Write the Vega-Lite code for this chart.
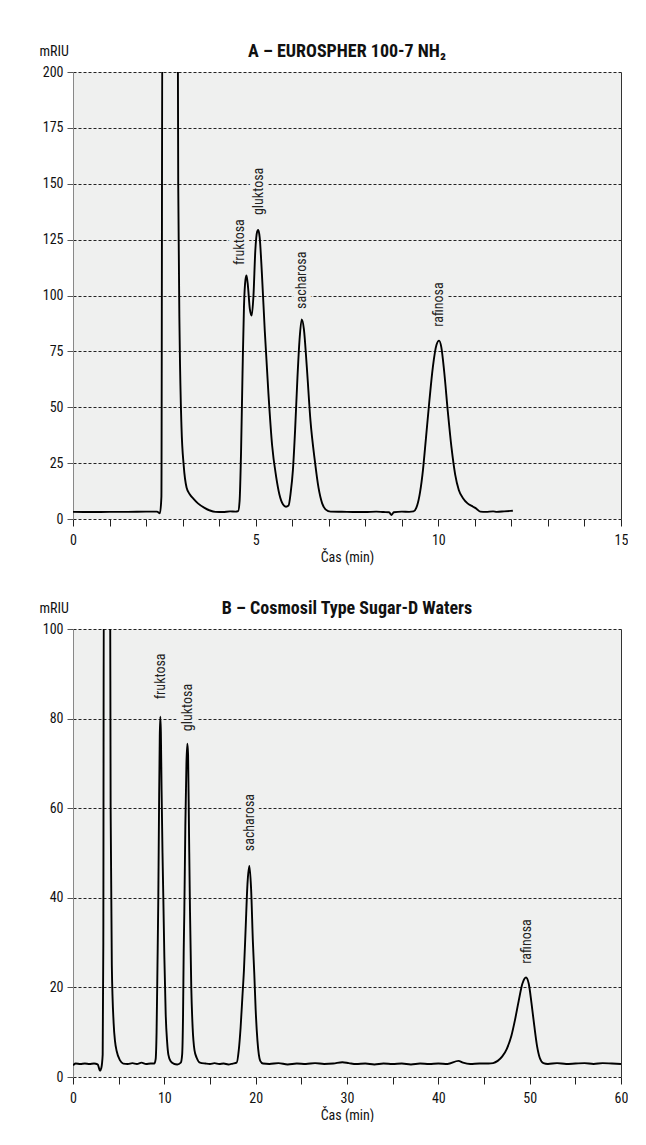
{
  "$schema": "https://vega.github.io/schema/vega-lite/v6.json",
  "background": "white",
  "padding": {"left": 39, "top": 43, "right": 0, "bottom": 0},
  "spacing": 36,
  "config": {
    "font": "Roboto Condensed, Liberation Sans Narrow, Roboto, sans-serif",
    "view": {"fill": "#eff0ef", "stroke": null},
    "axis": {
      "labelFont": "Roboto Condensed, Liberation Sans Narrow, Roboto, sans-serif",
      "labelFontSize": 14,
      "labelColor": "#111",
      "titleFont": "Roboto Condensed, Liberation Sans Narrow, Roboto, sans-serif",
      "titleFontSize": 14,
      "titleFontWeight": "normal",
      "titleColor": "#111",
      "tickColor": "#222",
      "domainColor": "#888",
      "gridColor": "#222",
      "gridDash": [3, 2],
      "gridOpacity": 1,
      "labelOverlap": false,
      "labelFlush": false
    },
    "title": {
      "font": "Roboto Condensed, Liberation Sans Narrow, Roboto, sans-serif",
      "fontSize": 18,
      "fontWeight": "bold",
      "color": "#111",
      "anchor": "middle",
      "frame": "group",
      "dy": 21
    }
  },
  "datasets": {
    "a": [
      {"t": 0, "v": 3.2}, {"t": 0.5, "v": 3.1}, {"t": 1.0, "v": 3.2}, {"t": 1.5, "v": 3.2}, {"t": 2.0, "v": 3.3}, {"t": 2.3, "v": 3.3},
      {"t": 2.38, "v": 2.6}, {"t": 2.42, "v": 10}, {"t": 2.45, "v": 260}, {"t": 2.86, "v": 260}, {"t": 2.88, "v": 150}, {"t": 2.92, "v": 80},
      {"t": 2.97, "v": 41}, {"t": 3.03, "v": 24}, {"t": 3.11, "v": 14}, {"t": 3.2, "v": 11}, {"t": 3.3, "v": 9}, {"t": 3.42, "v": 7},
      {"t": 3.6, "v": 5}, {"t": 3.75, "v": 3.8}, {"t": 3.9, "v": 3.2}, {"t": 4.1, "v": 3.1}, {"t": 4.3, "v": 3.4}, {"t": 4.45, "v": 3.3},
      {"t": 4.52, "v": 3.5}, {"t": 4.56, "v": 8}, {"t": 4.6, "v": 30}, {"t": 4.64, "v": 65}, {"t": 4.68, "v": 95}, {"t": 4.72, "v": 107},
      {"t": 4.75, "v": 109}, {"t": 4.79, "v": 104}, {"t": 4.84, "v": 94}, {"t": 4.89, "v": 91}, {"t": 4.94, "v": 100}, {"t": 4.99, "v": 120},
      {"t": 5.04, "v": 128.5}, {"t": 5.07, "v": 129.3}, {"t": 5.11, "v": 126}, {"t": 5.17, "v": 110}, {"t": 5.25, "v": 84}, {"t": 5.35, "v": 56},
      {"t": 5.45, "v": 33}, {"t": 5.56, "v": 19}, {"t": 5.65, "v": 11}, {"t": 5.75, "v": 6.5}, {"t": 5.83, "v": 5.5}, {"t": 5.9, "v": 6},
      {"t": 5.96, "v": 12}, {"t": 6.02, "v": 22}, {"t": 6.08, "v": 40}, {"t": 6.14, "v": 62}, {"t": 6.2, "v": 80}, {"t": 6.26, "v": 89.3},
      {"t": 6.32, "v": 85}, {"t": 6.4, "v": 68}, {"t": 6.5, "v": 44}, {"t": 6.62, "v": 26}, {"t": 6.72, "v": 14}, {"t": 6.82, "v": 7},
      {"t": 6.92, "v": 4.2}, {"t": 7.05, "v": 3.3}, {"t": 7.5, "v": 3.2}, {"t": 8.0, "v": 3.1}, {"t": 8.3, "v": 3.3}, {"t": 8.5, "v": 3.1},
      {"t": 8.65, "v": 3.0}, {"t": 8.72, "v": 1.8}, {"t": 8.78, "v": 3.0}, {"t": 9.0, "v": 3.3}, {"t": 9.2, "v": 3.2}, {"t": 9.32, "v": 3.4},
      {"t": 9.42, "v": 6}, {"t": 9.5, "v": 12}, {"t": 9.58, "v": 22}, {"t": 9.66, "v": 36}, {"t": 9.75, "v": 52}, {"t": 9.85, "v": 68},
      {"t": 9.95, "v": 78}, {"t": 10.02, "v": 79.8}, {"t": 10.08, "v": 77}, {"t": 10.16, "v": 66}, {"t": 10.26, "v": 48}, {"t": 10.36, "v": 32},
      {"t": 10.46, "v": 20}, {"t": 10.56, "v": 13}, {"t": 10.68, "v": 9.2}, {"t": 10.8, "v": 7}, {"t": 10.95, "v": 5.5}, {"t": 11.05, "v": 4.5},
      {"t": 11.15, "v": 3.3}, {"t": 11.3, "v": 3.2}, {"t": 11.5, "v": 3.4}, {"t": 11.6, "v": 3.2}, {"t": 11.8, "v": 3.4}, {"t": 12.04, "v": 3.7}
    ],
    "la": [
      {"t": 4.57, "v": 113.6, "name": "fruktosa"},
      {"t": 5.09, "v": 136, "name": "gluktosa"},
      {"t": 6.26, "v": 94, "name": "sacharosa"},
      {"t": 10.02, "v": 86, "name": "rafinosa"}
    ],
    "b": [
      {"t": 0, "v": 2.6}, {"t": 0.3, "v": 3.0}, {"t": 0.8, "v": 2.9}, {"t": 1.3, "v": 3.0}, {"t": 1.8, "v": 2.9}, {"t": 2.3, "v": 3.0},
      {"t": 2.7, "v": 2.8}, {"t": 2.96, "v": 1.4}, {"t": 3.1, "v": 2.0}, {"t": 3.25, "v": 5}, {"t": 3.32, "v": 30}, {"t": 3.38, "v": 120},
      {"t": 4.05, "v": 120}, {"t": 4.12, "v": 60}, {"t": 4.25, "v": 25}, {"t": 4.45, "v": 12}, {"t": 4.6, "v": 8}, {"t": 4.78, "v": 5.8},
      {"t": 5.15, "v": 3.7}, {"t": 5.5, "v": 3.0}, {"t": 6.0, "v": 2.9}, {"t": 6.5, "v": 3.1}, {"t": 7.0, "v": 2.9}, {"t": 7.5, "v": 3.2},
      {"t": 8.0, "v": 2.9}, {"t": 8.5, "v": 3.0}, {"t": 8.9, "v": 3.0}, {"t": 9.05, "v": 4}, {"t": 9.15, "v": 10}, {"t": 9.25, "v": 25},
      {"t": 9.34, "v": 40}, {"t": 9.42, "v": 60}, {"t": 9.5, "v": 76}, {"t": 9.56, "v": 80.4}, {"t": 9.62, "v": 77}, {"t": 9.7, "v": 64},
      {"t": 9.8, "v": 50}, {"t": 9.89, "v": 40}, {"t": 10.0, "v": 27}, {"t": 10.15, "v": 14}, {"t": 10.3, "v": 8}, {"t": 10.44, "v": 5},
      {"t": 10.7, "v": 3.5}, {"t": 11.0, "v": 3.0}, {"t": 11.42, "v": 2.8}, {"t": 11.8, "v": 3.2}, {"t": 11.95, "v": 5}, {"t": 12.05, "v": 14},
      {"t": 12.12, "v": 28}, {"t": 12.19, "v": 37}, {"t": 12.3, "v": 56}, {"t": 12.42, "v": 70}, {"t": 12.52, "v": 74.4}, {"t": 12.6, "v": 72},
      {"t": 12.7, "v": 55}, {"t": 12.81, "v": 37}, {"t": 12.95, "v": 20}, {"t": 13.1, "v": 11}, {"t": 13.3, "v": 6}, {"t": 13.54, "v": 4.3},
      {"t": 13.9, "v": 3.2}, {"t": 14.5, "v": 3.0}, {"t": 15.0, "v": 2.9}, {"t": 15.5, "v": 3.1}, {"t": 16.0, "v": 2.9}, {"t": 16.5, "v": 3.0},
      {"t": 17.0, "v": 2.8}, {"t": 17.5, "v": 3.0}, {"t": 17.92, "v": 3.2}, {"t": 18.15, "v": 6}, {"t": 18.35, "v": 11}, {"t": 18.55, "v": 18},
      {"t": 18.72, "v": 24}, {"t": 18.9, "v": 33}, {"t": 19.1, "v": 43}, {"t": 19.31, "v": 47.1}, {"t": 19.5, "v": 42}, {"t": 19.7, "v": 30},
      {"t": 19.85, "v": 23}, {"t": 20.0, "v": 15}, {"t": 20.2, "v": 8}, {"t": 20.5, "v": 3.6}, {"t": 20.8, "v": 3.0}, {"t": 21.5, "v": 2.9},
      {"t": 22.5, "v": 3.1}, {"t": 23.5, "v": 2.8}, {"t": 24.5, "v": 3.0}, {"t": 25.5, "v": 2.9}, {"t": 26.5, "v": 3.1}, {"t": 27.5, "v": 2.9},
      {"t": 28.5, "v": 3.0}, {"t": 29.5, "v": 3.3}, {"t": 30.2, "v": 3.1}, {"t": 31, "v": 2.9}, {"t": 32, "v": 3.0}, {"t": 33, "v": 2.8},
      {"t": 34, "v": 3.0}, {"t": 35, "v": 2.9}, {"t": 36, "v": 3.0}, {"t": 37, "v": 2.8}, {"t": 38, "v": 3.0}, {"t": 39, "v": 2.9},
      {"t": 40, "v": 3.0}, {"t": 41, "v": 2.9}, {"t": 42.2, "v": 3.6}, {"t": 42.7, "v": 3.2}, {"t": 43.5, "v": 2.9}, {"t": 44.5, "v": 3.0},
      {"t": 45.5, "v": 3.0}, {"t": 46.0, "v": 3.1}, {"t": 46.5, "v": 3.6}, {"t": 47.0, "v": 4.6}, {"t": 47.5, "v": 6.3}, {"t": 48.0, "v": 9.2},
      {"t": 48.4, "v": 12.8}, {"t": 48.8, "v": 17.0}, {"t": 49.2, "v": 20.8}, {"t": 49.6, "v": 22.2}, {"t": 49.9, "v": 20.8}, {"t": 50.2, "v": 16.5},
      {"t": 50.5, "v": 11.5}, {"t": 50.8, "v": 7}, {"t": 51.1, "v": 4.3}, {"t": 51.5, "v": 3.1}, {"t": 52, "v": 2.9}, {"t": 53, "v": 3.1},
      {"t": 54, "v": 2.9}, {"t": 55, "v": 3.0}, {"t": 56, "v": 3.1}, {"t": 57, "v": 2.9}, {"t": 58, "v": 3.1}, {"t": 59, "v": 3.0}, {"t": 60, "v": 2.9}
    ],
    "lb": [
      {"t": 9.6, "v": 84.3, "name": "fruktosa"},
      {"t": 12.63, "v": 77.2, "name": "gluktosa"},
      {"t": 19.38, "v": 50.4, "name": "sacharosa"},
      {"t": 49.7, "v": 25.3, "name": "rafinosa"}
    ]
  },
  "vconcat": [
    {
      "width": 548,
      "height": 447,
      "title": {"text": "A – EUROSPHER 100-7 NH₂"},
      "resolve": {"axis": {"y": "independent"}},
      "encoding": {
        "x": {"field": "t", "type": "quantitative", "scale": {"domain": [0, 15], "nice": false, "zero": false},
          "axis": {"values": [0,1,2,3,4,5,6,7,8,9,10,11,12,13,14,15], "labelExpr": "datum.value % 5 === 0 ? datum.label : ''", "grid": false, "domain": false, "tickSize": 7, "labelPadding": 7, "title": "Čas (min)", "titlePadding": 3}}
      },
      "layer": [
        {
          "data": {"name": "la"},
          "mark": {"type": "text", "angle": 270, "align": "left", "baseline": "middle", "fontSize": 14, "fill": "#eff0ef", "stroke": "#eff0ef", "strokeWidth": 10, "strokeJoin": "round"},
          "encoding": {
            "y": {"field": "v", "type": "quantitative", "scale": {"domain": [0, 200], "nice": false}, "axis": null},
            "text": {"field": "name"}
          }
        },
        {
          "data": {"name": "a"},
          "mark": {"type": "line", "color": "#000", "strokeWidth": 1.9, "clip": true, "interpolate": "monotone", "strokeJoin": "round"},
          "encoding": {
            "y": {"field": "v", "type": "quantitative", "scale": {"domain": [0, 200], "nice": false},
              "axis": {"orient": "left", "values": [0,25,50,75,100,125,150,175,200], "grid": true, "tickSize": 6, "labelPadding": 4, "tickColor": "#555", "domainColor": "#888", "title": "mRIU", "titleAngle": 0, "titleAlign": "left", "titleBaseline": "alphabetic", "titleX": -34, "titleY": -17}}
          }
        },
        {
          "data": {"name": "la"},
          "mark": {"type": "text", "angle": 270, "align": "left", "baseline": "middle", "fontSize": 14, "color": "#222"},
          "encoding": {
            "y": {"field": "v", "type": "quantitative", "scale": {"domain": [0, 200], "nice": false}, "axis": {"orient": "right", "labels": false, "ticks": false, "grid": false, "domain": true, "domainColor": "#333", "title": null}},
            "text": {"field": "name"}
          }
        }
      ]
    },
    {
      "width": 548,
      "height": 448,
      "title": {"text": "B – Cosmosil Type Sugar-D Waters"},
      "resolve": {"axis": {"y": "independent"}},
      "encoding": {
        "x": {"field": "t", "type": "quantitative", "scale": {"domain": [0, 60], "nice": false, "zero": false},
          "axis": {"values": [0,5,10,15,20,25,30,35,40,45,50,55,60], "labelExpr": "datum.value % 10 === 0 ? datum.label : ''", "grid": false, "domain": false, "tickSize": 7, "labelPadding": 7, "title": "Čas (min)", "titlePadding": 3}}
      },
      "layer": [
        {
          "data": {"name": "lb"},
          "mark": {"type": "text", "angle": 270, "align": "left", "baseline": "middle", "fontSize": 14, "fill": "#eff0ef", "stroke": "#eff0ef", "strokeWidth": 10, "strokeJoin": "round"},
          "encoding": {
            "y": {"field": "v", "type": "quantitative", "scale": {"domain": [0, 100], "nice": false}, "axis": null},
            "text": {"field": "name"}
          }
        },
        {
          "data": {"name": "b"},
          "mark": {"type": "line", "color": "#000", "strokeWidth": 1.9, "clip": true, "interpolate": "monotone", "strokeJoin": "round"},
          "encoding": {
            "y": {"field": "v", "type": "quantitative", "scale": {"domain": [0, 100], "nice": false},
              "axis": {"orient": "left", "values": [0,20,40,60,80,100], "grid": true, "tickSize": 6, "labelPadding": 4, "tickColor": "#555", "domainColor": "#888", "title": "mRIU", "titleAngle": 0, "titleAlign": "left", "titleBaseline": "alphabetic", "titleX": -34, "titleY": -17}}
          }
        },
        {
          "data": {"name": "lb"},
          "mark": {"type": "text", "angle": 270, "align": "left", "baseline": "middle", "fontSize": 14, "color": "#222"},
          "encoding": {
            "y": {"field": "v", "type": "quantitative", "scale": {"domain": [0, 100], "nice": false}, "axis": {"orient": "right", "labels": false, "ticks": false, "grid": false, "domain": true, "domainColor": "#333", "title": null}},
            "text": {"field": "name"}
          }
        }
      ]
    }
  ]
}
